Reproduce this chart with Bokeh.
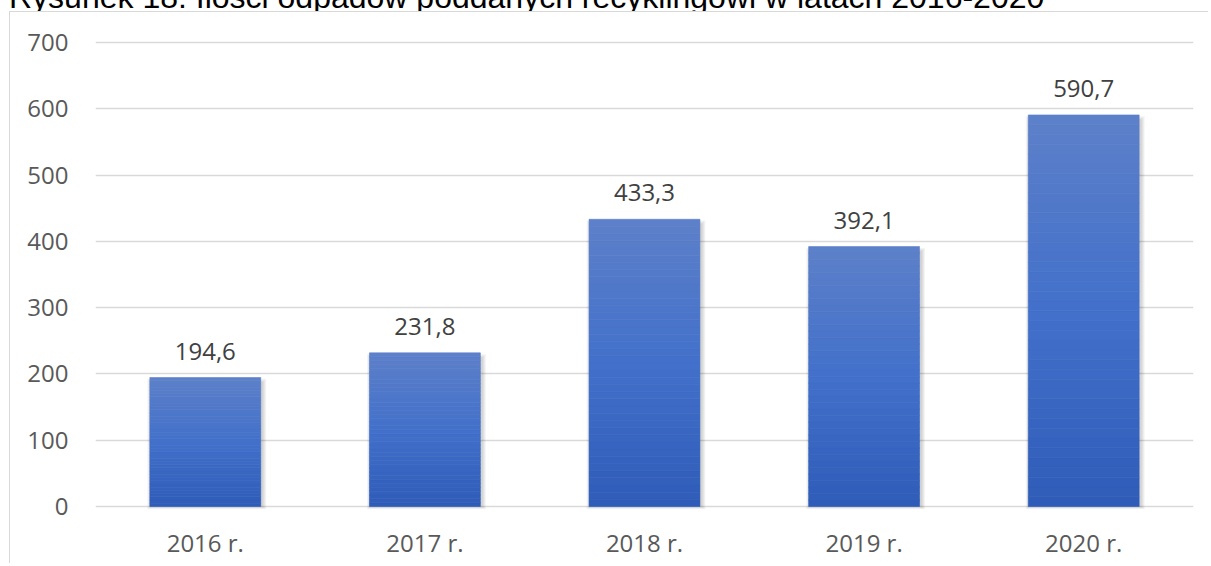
from bokeh.plotting import figure
from bokeh.layouts import column
from bokeh.models import (FactorRange, Range1d, FixedTicker, LabelSet, ColumnDataSource, Div)
from bokeh.core.properties import value
from bokeh.transform import dodge
from bokeh.embed import file_html
from bokeh.resources import INLINE

# ---- data ----
title_text = "Rysunek 18: Ilości odpadów poddanych recyklingowi w latach 2016-2020"
categories = ["2016 r.", "2017 r.", "2018 r.", "2019 r.", "2020 r."]
values = [194.6, 231.8, 433.3, 392.1, 590.7]
value_labels = [f"{v:.1f}".replace(".", ",") for v in values]
y_ticks = [0, 100, 200, 300, 400, 500, 600, 700]

# ---- styling ----
FONT = "Open Sans"
BAR_W = 0.505
grad_stops = [(0.0, (46, 92, 184)), (0.5, (66, 112, 202)), (1.0, (93, 128, 201))]
N_SLICES = 40


def grad_color(t):
    for (t0, c0), (t1, c1) in zip(grad_stops[:-1], grad_stops[1:]):
        if t <= t1:
            f = (t - t0) / (t1 - t0)
            c = [round(a + (b - a) * f) for a, b in zip(c0, c1)]
            return "#%02x%02x%02x" % tuple(c)
    return "#%02x%02x%02x" % grad_stops[-1][1]


# title: only its lower part is visible at the top of the page
title_div = Div(
    text=('<div style="font-family: \'Liberation Sans\'; font-size: 32px; line-height: 32px; '
          'position: relative; top: -4px; '
          'margin-top: -28.5px; margin-left: 9px; white-space: nowrap; color: #000;">'
          + title_text + '</div>'),
    width=1209, height=11, margin=(0, 0, 0, 0), styles={"overflow": "hidden"})

p = figure(x_range=FactorRange(*categories), y_range=Range1d(-6, 704.5),
           width=1199, height=552, output_backend="svg", toolbar_location=None,
           min_border_left=85, min_border_right=16, min_border_top=27, min_border_bottom=54,
           margin=(0, 0, 0, 9),
           styles={"border-left": "1px solid #d9d9d9", "border-top": "1px solid #d9d9d9"})
p.outline_line_color = None
p.background_fill_color = "white"
p.border_fill_color = "white"

# shadow layers
px_x = 1.0 / 219.6
for k in range(1, 5):
    src = ColumnDataSource(dict(x=categories,
                                top=[v - 8 + k * 1.5 for v in values],
                                bottom=[-k * 1.0 for _ in values]))
    p.vbar(x=dodge("x", 1.5 * px_x, range=p.x_range), top="top", bottom="bottom",
           width=BAR_W + 2 * k * px_x, source=src, fill_color="black", fill_alpha=0.045,
           line_color=None)

# gradient bars (sliced)
xs, tops, bottoms, colors = [], [], [], []
for c, v in zip(categories, values):
    for i in range(N_SLICES):
        xs.append(c)
        bottoms.append(v * i / N_SLICES)
        tops.append(v * (i + 1) / N_SLICES)
        colors.append(grad_color((i + 0.5) / N_SLICES))
p.vbar(x=xs, top=tops, bottom=bottoms, width=BAR_W, fill_color=colors,
       line_color=colors, line_width=0.6)

# value labels
lab_src = ColumnDataSource(dict(x=categories, y=values, text=value_labels))
p.add_layout(LabelSet(x="x", y="y", text="text", source=lab_src, y_offset=18,
                      text_align="center", text_baseline="alphabetic",
                      text_font=value(FONT), text_font_size=value("24px"),
                      text_color="#404040"))

# axes & grid
p.yaxis.ticker = FixedTicker(ticks=y_ticks)
p.ygrid.ticker = FixedTicker(ticks=y_ticks)
p.ygrid.grid_line_color = "#d9d9d9"
p.ygrid.grid_line_width = 1.3
p.xgrid.grid_line_color = None
for ax in (p.xaxis[0], p.yaxis[0]):
    ax.axis_line_color = None
    ax.major_tick_line_color = None
    ax.minor_tick_line_color = None
    ax.major_tick_out = 0
    ax.major_tick_in = 0
    ax.major_label_text_font = FONT
    ax.major_label_text_font_size = "24px"
    ax.major_label_text_color = "#595959"
p.yaxis.major_label_standoff = 27
p.xaxis.major_label_standoff = 15

layout = column(title_div, p, spacing=0)
open("out.html", "w").write(file_html(layout, INLINE))
